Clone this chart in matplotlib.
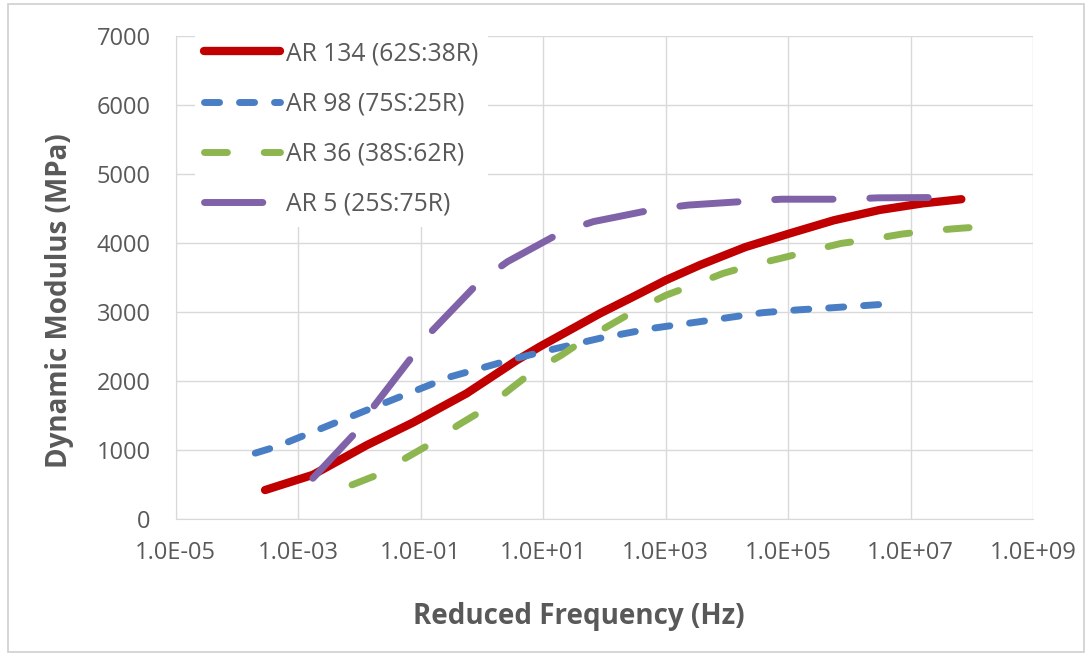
import numpy as np
import matplotlib
matplotlib.use("Agg")
import matplotlib.pyplot as plt
from matplotlib.patches import Rectangle

plt.rcParams['font.family'] = ['Open Sans', 'DejaVu Sans']

# log10 of reduced frequency (Hz) and dynamic modulus (MPa)
ar134_logf = [-3.54, -2.76, -1.88, -1.12, -0.25, 0.57, 0.95, 1.93, 2.47, 3.0, 3.56, 4.3,
              5.03, 5.75, 6.50, 7.2, 7.83]
ar134_mod = [420, 640, 1070, 1400, 1820, 2300, 2500, 2980, 3220, 3460, 3680, 3940,
             4140, 4330, 4480, 4575, 4635]

ar98_logf = [-3.70, -3.35, -2.42, -1.34, -0.52, 0.46, 0.99, 1.93, 2.79, 3.56, 4.58, 5.14, 5.69, 6.52]
ar98_mod = [955, 1050, 1385, 1770, 2060, 2305, 2425, 2620, 2765, 2860, 2990, 3030, 3060, 3110]

ar36_logf = [-2.12, -1.66, -1.24, -0.78, -0.39, 0.07, 0.48, 0.83, 1.30, 1.67, 2.14, 2.52,
             3.01, 3.45, 3.94, 4.41, 4.89, 5.38, 5.87, 6.36, 6.86, 7.34, 7.83, 8.34]
ar36_mod = [495, 655, 885, 1120, 1360, 1605, 1895, 2135, 2375, 2595, 2835, 3030,
            3245, 3390, 3560, 3680, 3780, 3890, 3995, 4055, 4130, 4180, 4215, 4245]

ar5_logf = [-2.76, -2.05, -1.75, -1.12, -0.88, -0.04, 0.42, 1.32, 1.82, 2.83, 3.37, 4.41,
            4.89, 5.96, 6.47, 7.53]
ar5_mod = [590, 1265, 1650, 2375, 2665, 3440, 3730, 4165, 4310, 4490, 4550, 4610,
           4635, 4635, 4655, 4660]

labels = ["AR 134 (62S:38R)", "AR 98 (75S:25R)", "AR 36 (38S:62R)", "AR 5 (25S:75R)"]
xticks = [1e-5, 1e-3, 1e-1, 1e1, 1e3, 1e5, 1e7, 1e9]

txt = "#595959"
grid = "#D9D9D9"

fig = plt.figure(figsize=(10.87, 6.55), dpi=100)
ax = fig.add_axes([0.1616, 0.2076, 0.7887, 0.7374])

ax.plot(10.0 ** np.array(ar134_logf), ar134_mod, color="#C00000", lw=6,
        solid_capstyle="round", solid_joinstyle="round", label=labels[0])
ax.plot(10.0 ** np.array(ar98_logf), ar98_mod, color="#4A7EC4", lw=5,
        dashes=(2.17, 2.87), dash_capstyle="round", label=labels[1])
ax.plot(10.0 ** np.array(ar36_logf), ar36_mod, color="#8DB650", lw=5,
        dashes=(3.3, 5.3), dash_capstyle="round", label=labels[2])
ax.plot(10.0 ** np.array(ar5_logf), ar5_mod, color="#7F62A8", lw=5,
        dashes=(8.4, 5.3), dash_capstyle="round", label=labels[3])

ax.set_xscale("log")
ax.set_xlim(1e-5, 1e9)
ax.set_ylim(0, 7000)
ax.set_xticks(xticks)
ax.xaxis.set_minor_locator(matplotlib.ticker.NullLocator())
ax.xaxis.set_major_formatter(matplotlib.ticker.FuncFormatter(lambda v, p: f"{v:.1E}"))
ax.set_yticks(range(0, 7001, 1000))

ax.grid(True, color=grid, lw=1)
ax.set_axisbelow(True)
for s in ["top", "right"]:
    ax.spines[s].set_visible(False)
for s in ["left", "bottom"]:
    ax.spines[s].set_color(grid)
ax.tick_params(length=0, labelsize=17, labelcolor=txt)
ax.tick_params(axis="y", pad=18)
ax.tick_params(axis="x", pad=16)

ax.set_xlabel("Reduced Frequency (Hz)", fontsize=20, fontweight="bold", color=txt)
ax.set_ylabel("Dynamic Modulus (MPa)", fontsize=20, fontweight="bold", color=txt)
ax.xaxis.set_label_coords(0.470, -0.172)
ax.yaxis.set_label_coords(-0.119, 0.453)

leg = ax.legend(loc="upper left", bbox_to_anchor=(0.022, 1.010), borderaxespad=0,
                fontsize=17.8, frameon=True, handlelength=3.06, labelspacing=1.02,
                handletextpad=0.24, edgecolor="none", facecolor="white",
                framealpha=1, fancybox=False)
for t in leg.get_texts():
    t.set_color(txt)

fig.patches.append(Rectangle((8 / 1087, 3 / 655), 1076 / 1087, 648 / 655,
                             transform=fig.transFigure, fill=False,
                             edgecolor="#D0D0D0", lw=1.2))

fig.savefig("out.png", dpi=100)
